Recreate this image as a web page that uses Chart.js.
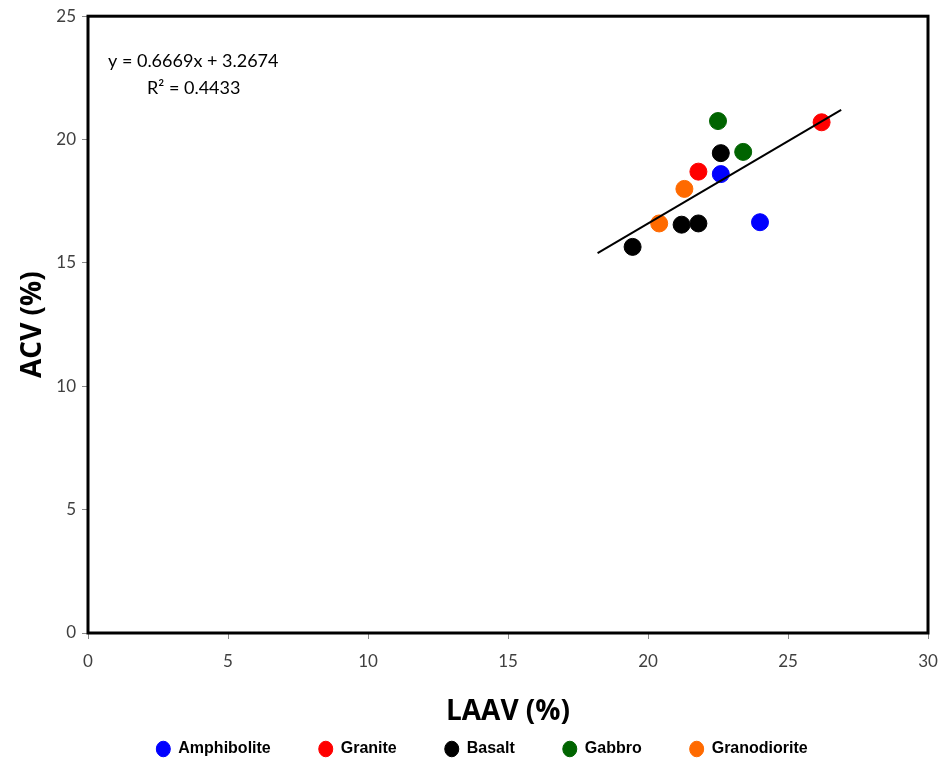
<!DOCTYPE html>
<html>
<head>
<meta charset="utf-8">
<script src="https://cdn.jsdelivr.net/npm/chart.js@4/dist/chart.umd.min.js"></script>
<style>
  html, body { margin: 0; padding: 0; background: #fff; }
  #wrap { width: 940px; height: 767px; }
</style>
</head>
<body>
<div id="wrap"><canvas id="mygra"></canvas></div>
<script>
// rock types and their (LAAV, ACV) points
const rockTypes = ['Amphibolite', 'Granite', 'Basalt', 'Gabbro', 'Granodiorite'];
const rockColors = ['#0000ff', '#ff0000', '#000000', '#006400', '#ff6a00'];

const amphiboliteX = [22.6, 24.0];
const amphiboliteY = [18.6, 16.65];
const graniteX = [21.8, 26.2];
const graniteY = [18.7, 20.7];
const basaltX = [19.45, 21.2, 21.8, 22.6];
const basaltY = [15.65, 16.55, 16.6, 19.45];
const gabbroX = [22.5, 23.4];
const gabbroY = [20.75, 19.5];
const granodioriteX = [20.4, 21.3];
const granodioriteY = [16.6, 18.0];

// linear trend line ends
const trendX = [18.2, 26.9];
const trendY = [15.4, 21.2];

const xTicks = [0, 5, 10, 15, 20, 25, 30];
const yTicks = [0, 5, 10, 15, 20, 25];

function pairs(xs, ys) {
    return xs.map((x, i) => ({ x: x, y: ys[i] }));
}

const seriesX = [amphiboliteX, graniteX, basaltX, gabbroX, granodioriteX];
const seriesY = [amphiboliteY, graniteY, basaltY, gabbroY, granodioriteY];

const datasets = rockTypes.map((name, i) => ({
    label: name,
    data: pairs(seriesX[i], seriesY[i]),
    backgroundColor: rockColors[i],
    borderColor: rockColors[i],
    pointRadius: 8.5,
    pointHoverRadius: 8.5,
    showLine: false,
    order: 1
}));

datasets.push({
    label: 'trend',
    type: 'line',
    data: pairs(trendX, trendY),
    borderColor: '#000',
    borderWidth: 2,
    pointRadius: 0,
    fill: false,
    order: 0
});

// legend: wide spacing between items but a short strip at the bottom
const LEGEND_PAD = 48;
const legendStrip = {
    id: 'legendStrip',
    beforeInit(chart) {
        const fit = chart.legend.fit;
        chart.legend.fit = function () {
            fit.call(this);
            this.height = 34;
        };
    },
    afterLayout(chart) {
        const lg = chart.legend;
        // items are drawn at top + padding, so pull the top up (legend clips to its box)
        lg.top -= LEGEND_PAD - 8;
        // nudge the row a bit to the right
        lg.left += 18;
        lg.right += 18;
    }
};

const frame = {
    id: 'frame',
    afterDatasetsDraw(chart) {
        const a = chart.chartArea;
        const ctx = chart.ctx;
        ctx.save();
        ctx.strokeStyle = '#000';
        ctx.lineWidth = 3;
        ctx.strokeRect(a.left, a.top, a.right - a.left, a.bottom - a.top);
        // equation text
        ctx.fillStyle = '#000';
        ctx.font = '18px Lato, "Open Sans", sans-serif';
        ctx.textBaseline = 'middle';
        ctx.fillText('y = 0.6669x + 3.2674', 108, 61);
        ctx.fillText('R² = 0.4433', 147, 88);
        ctx.restore();
    }
};

const tickFont = { family: 'Lato, "Open Sans", sans-serif', size: 17 };

const config = {
    type: 'scatter',
    data: { datasets: datasets },
    options: {
        responsive: false,
        animation: false,
        layout: { padding: { left: 0, right: 12, top: 15, bottom: 0 } },
        plugins: {
            tooltip: { enabled: false },
            legend: {
                position: 'bottom',
                labels: {
                    filter: item => item.text !== 'trend',
                    usePointStyle: true,
                    pointStyle: 'circle',
                    pointStyleWidth: 14,
                    boxWidth: 11,
                    boxHeight: 11,
                    padding: LEGEND_PAD,
                    color: '#000',
                    font: { family: '"Liberation Sans", Arial, sans-serif', size: 16, weight: 'bold' }
                }
            }
        },
        scales: {
            x: {
                type: 'linear',
                min: 0,
                max: 30,
                afterBuildTicks: s => { s.ticks = xTicks.map(v => ({ value: v })); },
                afterFit: s => { s.height = 100; s.paddingLeft = 0; s.paddingRight = 0; },
                grid: { drawOnChartArea: false, drawTicks: true, tickLength: 6, color: '#888' },
                border: { display: false },
                ticks: { color: '#404040', font: tickFont, padding: 12 },
                title: {
                    display: true,
                    text: 'LAAV (%)',
                    color: '#000',
                    font: { family: '"Open Sans", sans-serif', size: 28, weight: 'bold' },
                    padding: { top: 11 }
                }
            },
            y: {
                type: 'linear',
                min: 0,
                max: 25,
                afterBuildTicks: s => { s.ticks = yTicks.map(v => ({ value: v })); },
                afterFit: s => { s.width = 88; },
                grid: { drawOnChartArea: false, drawTicks: true, tickLength: 6, color: '#888' },
                border: { display: false },
                ticks: { color: '#404040', font: tickFont, padding: 6 },
                title: {
                    display: true,
                    text: 'ACV (%)',
                    color: '#000',
                    font: { family: '"Open Sans", sans-serif', size: 28, weight: 'bold' },
                    padding: { top: 16, bottom: 0 }
                }
            }
        }
    },
    plugins: [legendStrip, frame]
};

const canvas = document.getElementById('mygra');
canvas.width = 940;
canvas.height = 767;
window.myChart = new Chart(canvas.getContext('2d'), config);
</script>
</body>
</html>
